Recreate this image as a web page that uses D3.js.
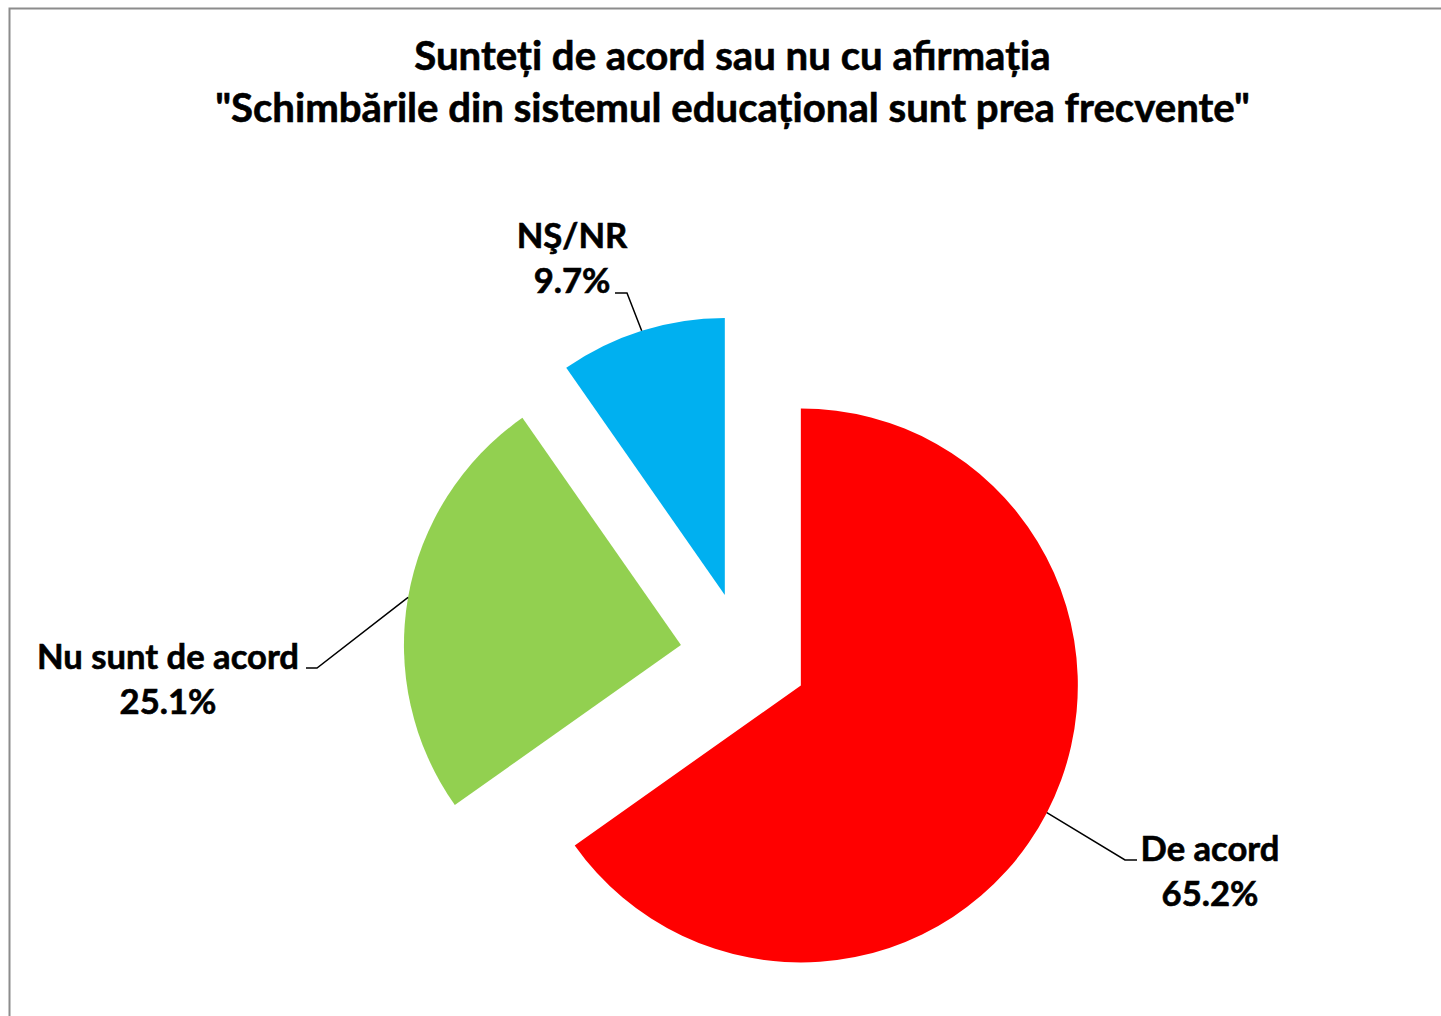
<!DOCTYPE html>
<html><head><meta charset="utf-8">
<script src="https://cdn.jsdelivr.net/npm/d3@7"></script>
<style>
html,body{margin:0;padding:0;background:#fff;}
svg{display:block;}
text{font-family:"Lato","Open Sans",sans-serif;font-weight:bold;fill:#000;stroke:#000;stroke-width:0.6px;}
</style></head>
<body>
<svg id="c" width="1441" height="1016"></svg>
<script>
// ---- data ----
const categories = ["De acord", "Nu sunt de acord", "NŞ/NR"];
const values = [65.2, 25.1, 9.7];
const colors = ["#FF0000", "#92D050", "#00B0F0"];
const titleLines = ["Sunteți de acord sau nu cu afirmația", "\"Schimbările din sistemul educațional sunt prea frecvente\""];

// ---- layout ----
const W = 1441, H = 1016;
const cx = 744, cy = 656, R = 277, explode = 64;
// label anchor (text x, first baseline), elbow point, line end
const labelLayout = [
  {x: 1210, y: 861, elbow: [1125, 860], end: [1137, 860]},
  {x: 168, y: 669, elbow: [317, 668], end: [306, 668]},
  {x: 572, y: 248, elbow: [627, 293], end: [615, 293]}
];

const svg = d3.select("#c");
svg.append("rect").attr("x", 9.5).attr("y", 8.5).attr("width", W).attr("height", H)
  .attr("fill", "#fff").attr("stroke", "#8c8c8c").attr("stroke-width", 2);

function fitSize(txt, target) {
  const t = svg.append("text").attr("font-size", 100).text(txt);
  const w = t.node().getComputedTextLength();
  t.remove();
  return 100 * target / w;
}

const titleSize = fitSize(titleLines[1], 1035);
const title = svg.append("text").attr("text-anchor", "middle").attr("font-size", titleSize);
title.append("tspan").attr("x", 732.5).attr("y", 70).text(titleLines[0]);
title.append("tspan").attr("x", 732.5).attr("y", 122).text(titleLines[1]);

const pie = d3.pie().sort(null).value(d => d)(values);
const arc = d3.arc().innerRadius(0).outerRadius(R);

const g = svg.append("g").attr("transform", `translate(${cx},${cy})`);
pie.forEach((p, i) => {
  const mid = (p.startAngle + p.endAngle) / 2;
  const ox = explode * Math.sin(mid), oy = -explode * Math.cos(mid);
  g.append("path").attr("d", arc(p)).attr("fill", colors[i])
    .attr("transform", `translate(${ox},${oy})`);
  const sx = cx + ox + R * Math.sin(mid), sy = cy + oy - R * Math.cos(mid);
  const L = labelLayout[i];
  svg.append("polyline")
    .attr("points", [[sx, sy], L.elbow, L.end].map(q => q.join(",")).join(" "))
    .attr("fill", "none").attr("stroke", "#000").attr("stroke-width", 1.5);
});

const labelSize = fitSize("Nu sunt de acord", 262);
pie.forEach((p, i) => {
  const L = labelLayout[i];
  const t = svg.append("text").attr("text-anchor", "middle").attr("font-size", labelSize);
  t.append("tspan").attr("x", L.x).attr("y", L.y).text(categories[i]);
  t.append("tspan").attr("x", L.x).attr("y", L.y + 45).text(values[i].toFixed(1) + "%");
});
</script>
</body></html>
